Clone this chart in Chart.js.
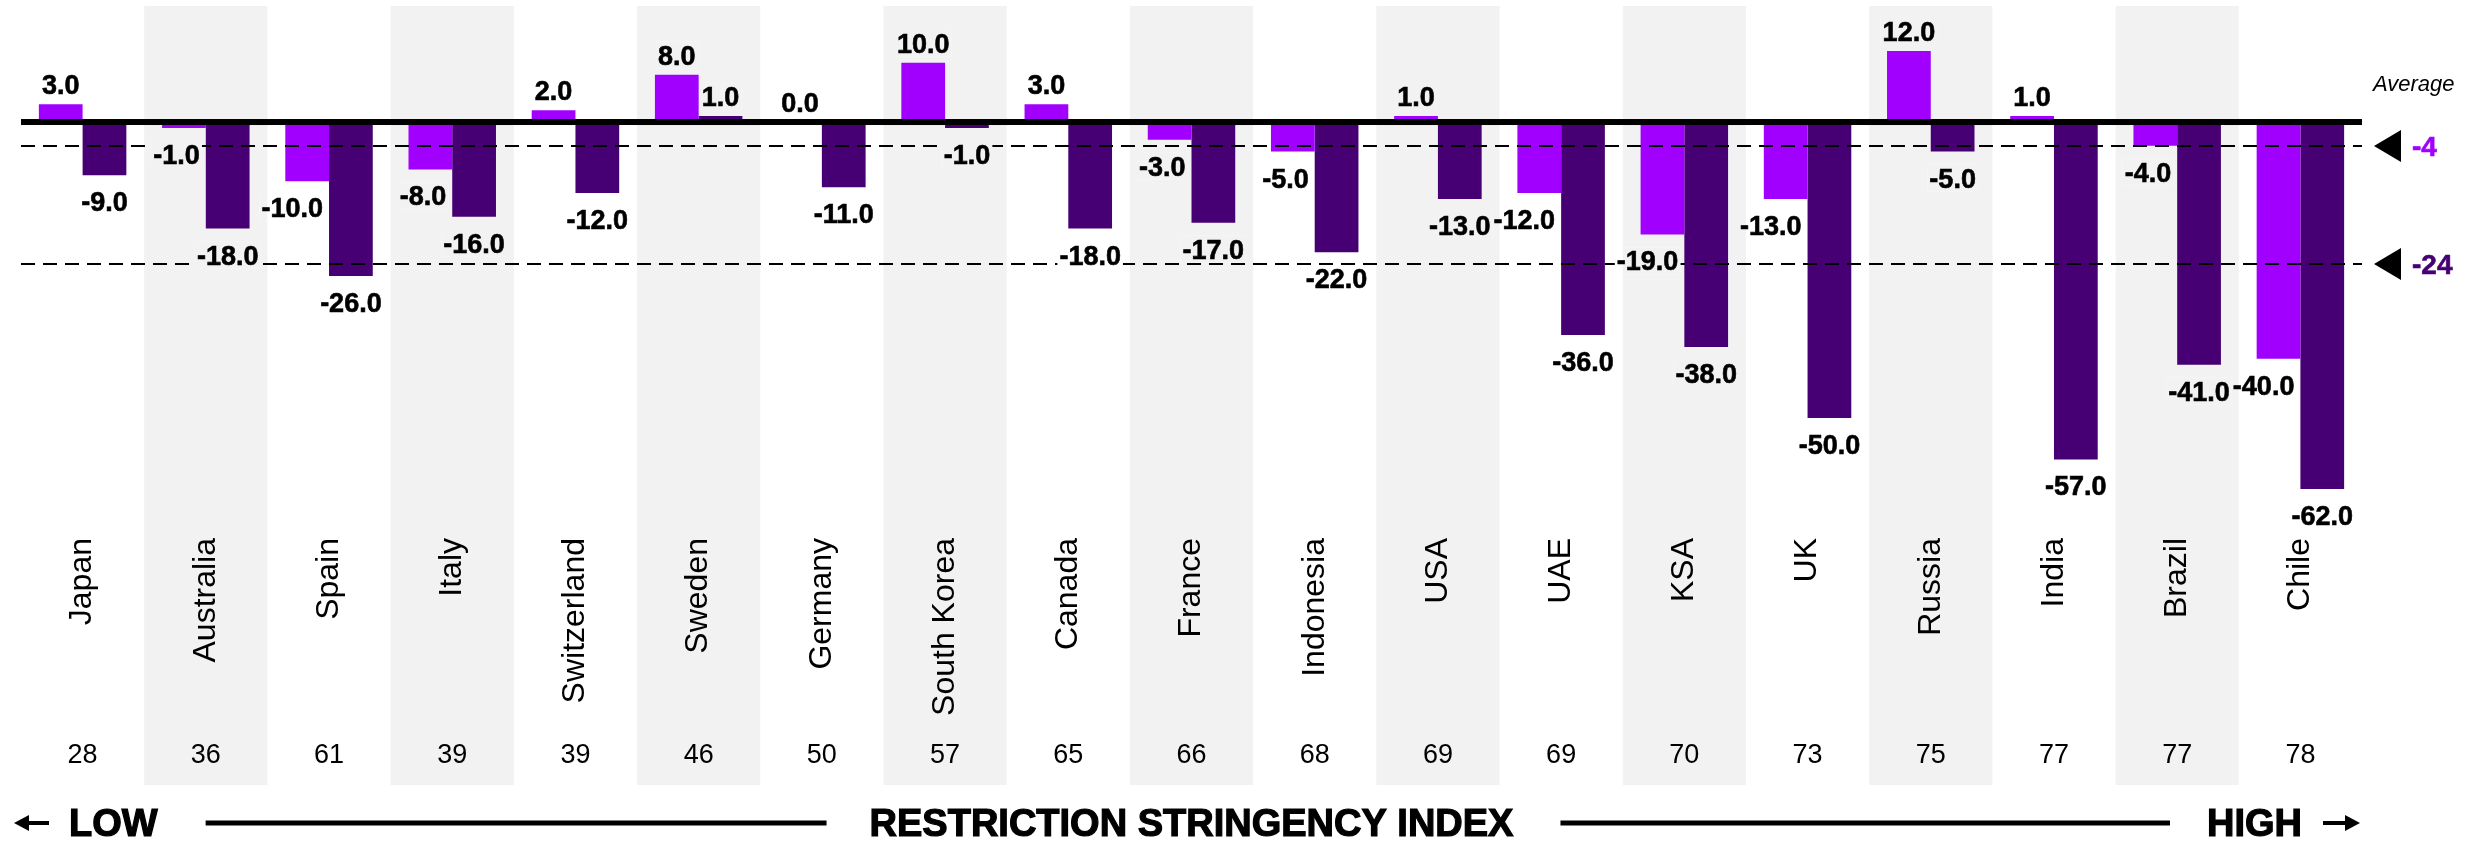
<!DOCTYPE html>
<html>
<head>
<meta charset="utf-8">
<script src="https://cdn.jsdelivr.net/npm/chart.js@4.4.1/dist/chart.umd.min.js"></script>
<style>
    html, body { margin: 0; padding: 0; background: #fff; }
    #wrap { width: 2471px; height: 841px; }
</style>
</head>
<body>
<div id="wrap"><canvas id="myChart" width="2471" height="841"></canvas></div>
<script>
/* ===============================
   DATA
=============================== */
const countries = ["Japan", "Australia", "Spain", "Italy", "Switzerland", "Sweden", "Germany",
    "South Korea", "Canada", "France", "Indonesia", "USA", "UAE", "KSA", "UK", "Russia",
    "India", "Brazil", "Chile"];
const stringencyIndex = [28, 36, 61, 39, 39, 46, 50, 57, 65, 66, 68, 69, 69, 70, 73, 75, 77, 77, 78];
const seriesPurple = [3, -1, -10, -8, 2, 8, 0, 10, 3, -3, -5, 1, -12, -19, -13, 12, 1, -4, -40];
const seriesDark = [-9, -18, -26, -16, -12, 1, -11, -1, -18, -17, -22, -13, -36, -38, -50, -5, -57, -41, -62];
const averages = [-4, -24];
const averageTitle = "Average";
const axisTitle = "RESTRICTION STRINGENCY INDEX";
const lowText = "LOW";
const highText = "HIGH";

/* ===============================
   STYLE
=============================== */
const FONT = "'Liberation Sans', Arial, sans-serif";
const PURPLE = "#a100ff";
const DARK = "#460073";
const BAND = "#f2f2f2";
const seriesColors = [PURPLE, DARK];

/* ===============================
   HELPERS
=============================== */
function categoryWidth(chart) {
    const x = chart.scales.x;
    return x.getPixelForValue(1) - x.getPixelForValue(0);
}

// paint a label background that keeps the band pattern under it
function paintBg(chart, x0, y0, x1, y1) {
    const ctx = chart.ctx;
    const x = chart.scales.x;
    const w = categoryWidth(chart);
    ctx.fillStyle = "#fff";
    ctx.fillRect(x0, y0, x1 - x0, y1 - y0);
    ctx.fillStyle = BAND;
    for (let i = 1; i < countries.length; i += 2) {
        const b0 = x.getPixelForValue(i) - w / 2;
        const b1 = b0 + w;
        const l = Math.max(b0, x0);
        const r = Math.min(b1, x1);
        if (r > l) ctx.fillRect(l, y0, r - l, y1 - y0);
    }
}

// heavy text: fill plus a thin stroke of the same colour
function heavyText(ctx, text, x, y, weight) {
    ctx.fillText(text, x, y);
    ctx.lineWidth = weight;
    ctx.strokeStyle = ctx.fillStyle;
    ctx.strokeText(text, x, y);
}

function arrow(ctx, tipX, tailX, y) {
    const dir = tailX > tipX ? 1 : -1;
    ctx.fillStyle = "#000";
    ctx.fillRect(Math.min(tipX + dir * 12, tailX), y - 2, Math.abs(tailX - tipX) - 12, 4);
    ctx.beginPath();
    ctx.moveTo(tipX, y);
    ctx.lineTo(tipX + dir * 15, y - 8);
    ctx.lineTo(tipX + dir * 15, y + 8);
    ctx.closePath();
    ctx.fill();
}

/* ===============================
   PLUGINS
=============================== */
const bandsPlugin = {
    id: "bands",
    beforeDatasetsDraw(chart) {
        const ctx = chart.ctx;
        const x = chart.scales.x;
        const area = chart.chartArea;
        const w = categoryWidth(chart);

        ctx.save();
        ctx.fillStyle = BAND;
        for (let i = 1; i < countries.length; i += 2) {
            ctx.fillRect(x.getPixelForValue(i) - w / 2, area.top, w, area.bottom - area.top);
        }

        /* country names, rotated */
        ctx.fillStyle = "#000";
        ctx.font = "32px " + FONT;
        ctx.textAlign = "right";
        ctx.textBaseline = "middle";
        countries.forEach((name, i) => {
            ctx.save();
            ctx.translate(x.getPixelForValue(i), 538);
            ctx.rotate(-Math.PI / 2);
            ctx.fillText(name, 0, 0);
            ctx.restore();
        });

        /* stringency index */
        ctx.font = "27px " + FONT;
        ctx.textAlign = "center";
        ctx.textBaseline = "alphabetic";
        stringencyIndex.forEach((v, i) => {
            ctx.fillText(String(v), x.getPixelForValue(i), 763);
        });
        ctx.restore();
    }
};

const overlayPlugin = {
    id: "overlay",
    afterDatasetsDraw(chart) {
        const ctx = chart.ctx;
        const y = chart.scales.y;
        const area = chart.chartArea;

        ctx.save();

        /* average lines */
        averages.forEach((avg, k) => {
            const py = Math.round(y.getPixelForValue(avg));
            ctx.strokeStyle = "#000";
            ctx.lineWidth = 2;
            ctx.setLineDash([14, 8]);
            ctx.beginPath();
            ctx.moveTo(area.left, py);
            ctx.lineTo(area.right, py);
            ctx.stroke();
            ctx.setLineDash([]);

            ctx.fillStyle = "#000";
            ctx.beginPath();
            ctx.moveTo(area.right + 12, py);
            ctx.lineTo(area.right + 39, py - 16);
            ctx.lineTo(area.right + 39, py + 16);
            ctx.closePath();
            ctx.fill();

            ctx.fillStyle = seriesColors[k];
            ctx.font = "bold 28px " + FONT;
            ctx.textAlign = "left";
            ctx.textBaseline = "alphabetic";
            heavyText(ctx, String(avg), area.right + 50, py + 10, 0.6);
        });

        ctx.fillStyle = "#000";
        ctx.font = "italic 22px " + FONT;
        ctx.textAlign = "left";
        ctx.fillText(averageTitle, area.right + 11, 91);

        /* zero line */
        const zero = y.getPixelForValue(0);
        ctx.fillStyle = "#000";
        ctx.fillRect(area.left, zero - 3, area.right - area.left, 6);

        /* value labels */
        ctx.font = "bold 27px " + FONT;
        ctx.textBaseline = "alphabetic";
        const cap = 19;
        [seriesPurple, seriesDark].forEach((values, d) => {
            const meta = chart.getDatasetMeta(d);
            values.forEach((v, i) => {
                const bar = meta.data[i];
                const text = v.toFixed(1);
                const tw = ctx.measureText(text).width;
                let tx, base;
                if (v >= 0) {
                    tx = bar.x - tw / 2;
                    base = bar.y - 10;
                } else if (d === 0) {
                    tx = bar.x + bar.width / 2 - 6 - tw;
                    base = bar.y + 17 + cap;
                } else {
                    tx = bar.x - tw / 2;
                    base = bar.y + 17 + cap;
                }
                paintBg(chart, tx - 2, base - cap - 4, tx + tw + 2, base + 4);
                ctx.fillStyle = "#000";
                ctx.textAlign = "left";
                heavyText(ctx, text, tx, base, 0.6);
            });
        });

        /* bottom axis title row */
        const rowY = 823;
        ctx.font = "bold 38px " + FONT;
        ctx.fillStyle = "#000";
        ctx.textAlign = "left";
        const base = rowY + 13;

        const lowX = 69;
        const lowW = ctx.measureText(lowText).width;
        heavyText(ctx, lowText, lowX, base, 1.2);

        const titleW = ctx.measureText(axisTitle).width;
        const titleX = (area.left + area.right) / 2 - titleW / 2;
        heavyText(ctx, axisTitle, titleX, base, 1.2);

        const highW = ctx.measureText(highText).width;
        const highX = 2302 - highW;
        heavyText(ctx, highText, highX, base, 1.2);

        ctx.fillRect(lowX + lowW + 48, rowY - 2.5, titleX - 43 - (lowX + lowW + 48), 5);
        ctx.fillRect(titleX + titleW + 47, rowY - 2.5, highX - 37 - (titleX + titleW + 47), 5);

        arrow(ctx, 14, 49, rowY);
        arrow(ctx, 2360, 2323, rowY);

        ctx.restore();
    }
};

/* ===============================
   CHART
=============================== */
const canvas = document.getElementById("myChart");

const myChart = new Chart(canvas, {
    type: "bar",
    data: {
        labels: countries,
        datasets: [
            {
                label: "Purple",
                data: seriesPurple,
                backgroundColor: PURPLE,
                borderWidth: 0,
                categoryPercentage: 0.71,
                barPercentage: 1.0
            },
            {
                label: "Dark",
                data: seriesDark,
                backgroundColor: DARK,
                borderWidth: 0,
                categoryPercentage: 0.71,
                barPercentage: 1.0
            }
        ]
    },
    options: {
        responsive: false,
        animation: false,
        devicePixelRatio: 1,
        layout: { padding: { left: 21, right: 109, top: 6, bottom: 56 } },
        plugins: {
            legend: { display: false },
            tooltip: { enabled: false }
        },
        scales: {
            x: { display: false, offset: true },
            y: { display: false, min: -112, max: 19.6 }
        }
    },
    plugins: [bandsPlugin, overlayPlugin]
});
</script>
</body>
</html>
